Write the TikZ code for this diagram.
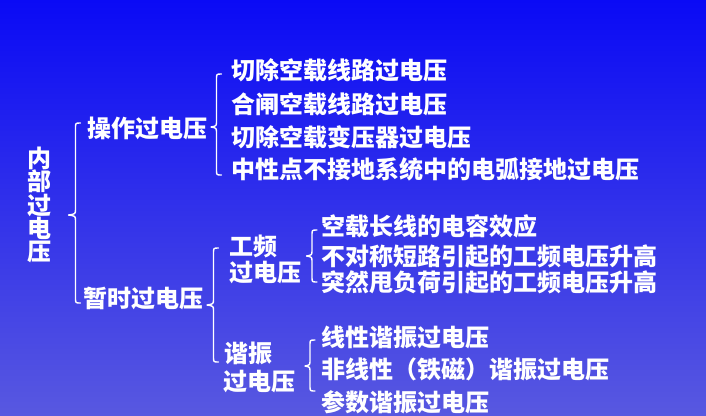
\documentclass[tikz,border=0pt]{standalone}
\usepackage{fontspec}
\newfontfamily\cjk{Noto Sans CJK SC}
\definecolor{bgtop}{RGB}{10,10,245}
\definecolor{bgbot}{RGB}{88,88,224}
\tikzset{
  lbl/.style={anchor=west, inner sep=0pt, text=white, font=\cjk\bfseries\fontsize{24bp}{24bp}\selectfont},
  brc/.style={draw=white, line width=1.4bp, line cap=round, line join=round},
}
\newcommand\bracepath[5]{% x of line, top, middle, bottom, tip x
  \draw[brc] ({#1+5},#2) .. controls (#1,#2) .. (#1,{#2+5}) -- (#1,{#3-6})
    .. controls (#1,{#3-1}) .. (#5,#3) .. controls (#1,{#3+1}) .. (#1,{#3+6})
    -- (#1,{#4-5}) .. controls (#1,#4) .. ({#1+5},#4);}
\begin{document}
\begin{tikzpicture}[x=1bp,y=-1bp]
\shade[top color=bgtop, bottom color=bgbot] (0,0) rectangle (706,415);
\useasboundingbox (0,0) rectangle (706,415);

% level 0
\node[lbl, anchor=center, align=center, font=\cjk\bfseries\fontsize{24bp}{23.3bp}\selectfont] (root) at (39,205) {内\\部\\过\\电\\压};
\bracepath{75.5}{123}{215}{303}{68.5}

% level 1
\node[lbl] (op) at (87,128) {操作过电压};
\node[lbl] (tmp) at (83,298) {暂时过电压};

% operating overvoltages
\bracepath{216.5}{74}{127}{175}{211}
\node[lbl] (o1) at (231,70) {切除空载线路过电压};
\node[lbl] (o2) at (231,104) {合闸空载线路过电压};
\node[lbl] (o3) at (231,137) {切除空载变压器过电压};
\node[lbl] (o4) at (231,169) {中性点不接地系统中的电弧接地过电压};

% temporary overvoltages
\bracepath{213.5}{248}{305}{362}{207}
\node[lbl] (pf1) at (229,246.5) {工频};
\node[lbl] (pf2) at (229,273) {过电压};
\node[lbl] (rs1) at (224,353) {谐振};
\node[lbl] (rs2) at (223,381.5) {过电压};

% power frequency
\bracepath{312}{230}{256}{282}{306.5}
\node[lbl] (p1) at (321,226) {空载长线的电容效应};
\node[lbl] (p2) at (321,256) {不对称短路引起的工频电压升高};
\node[lbl] (p3) at (321,282) {突然甩负荷引起的工频电压升高};

% resonance
\bracepath{310}{340}{366}{391}{305}
\node[lbl] (r1) at (321,337) {线性谐振过电压};
\node[lbl] (r2) at (321,369) {非线性（铁磁）谐振过电压};
\node[lbl] (r3) at (321,402) {参数谐振过电压};
\end{tikzpicture}
\end{document}
